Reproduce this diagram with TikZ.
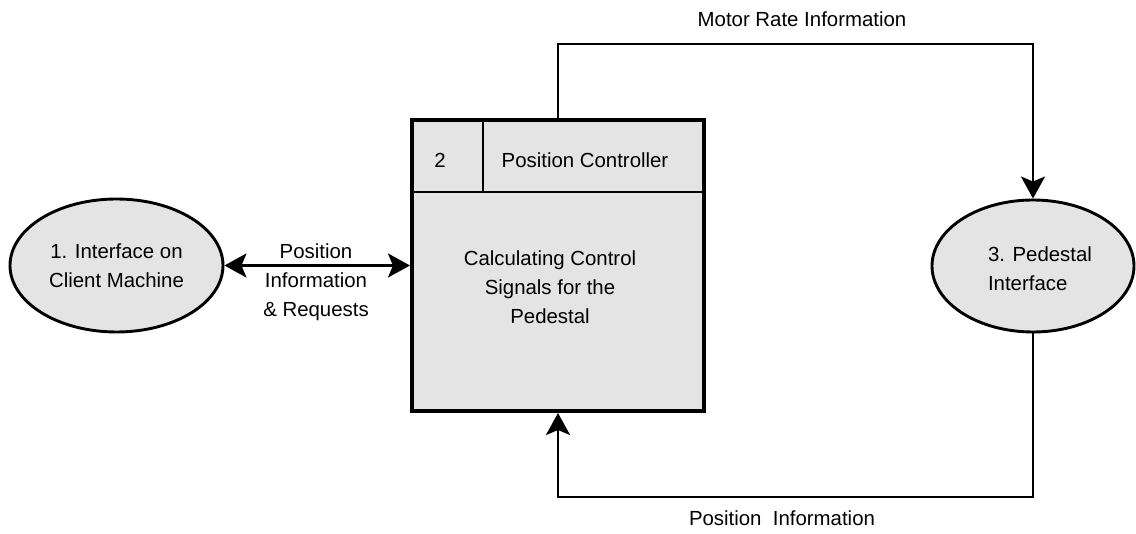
\documentclass[tikz,border=0pt]{standalone}
\usepackage{fontspec}
\setmainfont{Liberation Sans}
\usetikzlibrary{arrows.meta,shapes.geometric,calc}
\definecolor{procfill}{RGB}{228,228,228}
\begin{document}
\begin{tikzpicture}[x=1pt,y=-1pt,
  every node/.style={font=\fontsize{20.4}{29}\selectfont, inner sep=0pt},
  proc/.style={ellipse, draw, line width=2.9pt, fill=procfill},
  flow/.style={line width=2.7pt, -{Stealth[length=22pt,width=24pt,inset=5pt]}},
  biflow/.style={line width=2.7pt, {Stealth[length=22pt,width=24pt,inset=5pt]}-{Stealth[length=22pt,width=24pt,inset=5pt]}},
  lbl/.style={align=center}]
  \useasboundingbox (0,0) rectangle (1136,534);

  % processes
  \node[proc, minimum width=213pt, minimum height=133pt, lbl] (client) at (116.5,265.5)
    {1. Interface on\\Client Machine};
  \node[proc, minimum width=202pt, minimum height=132pt] (ped) at (1033,266) {};
  \node[align=left] (pedtxt) at (1040,269) {3. Pedestal\\Interface};

  % position controller box
  \node[draw, line width=4pt, fill=procfill, minimum width=292pt, minimum height=291pt] (pc) at (558,265.5) {};
  \coordinate (hl) at ($(pc.north west)+(0,74)$);
  \coordinate (hr) at ($(pc.north east)+(0,74)$);
  \coordinate (dt) at (483,118);
  \draw[line width=2.6pt] (hl) -- (hr);
  \draw[line width=2.6pt] (dt) -- (dt |- hl);
  \node (pcnum) at (440,160) {2};
  \node (pcname) at (585,160) {Position Controller};
  \node[lbl] (pcbody) at (550,287) {Calculating Control\\Signals for the\\Pedestal};

  % data flows
  \draw[biflow] (client.east) -- (pc.west);
  \node[lbl] (reqlbl) at (316,282) {Position\\Information\\\& Requests};

  \coordinate (tr) at (1033,44);
  \draw[flow] (pc.north) |- (tr) -- (ped.north);
  \node (ratelbl) at (802,19) {Motor Rate Information};

  \coordinate (br) at (1033,497);
  \coordinate (bl) at (558,497);
  \draw[flow] (ped.south) -- (br) -- (bl) -- (pc.south);
  \node (poslbl) at (782,518) {Position\ \ Information};
\end{tikzpicture}
\end{document}
